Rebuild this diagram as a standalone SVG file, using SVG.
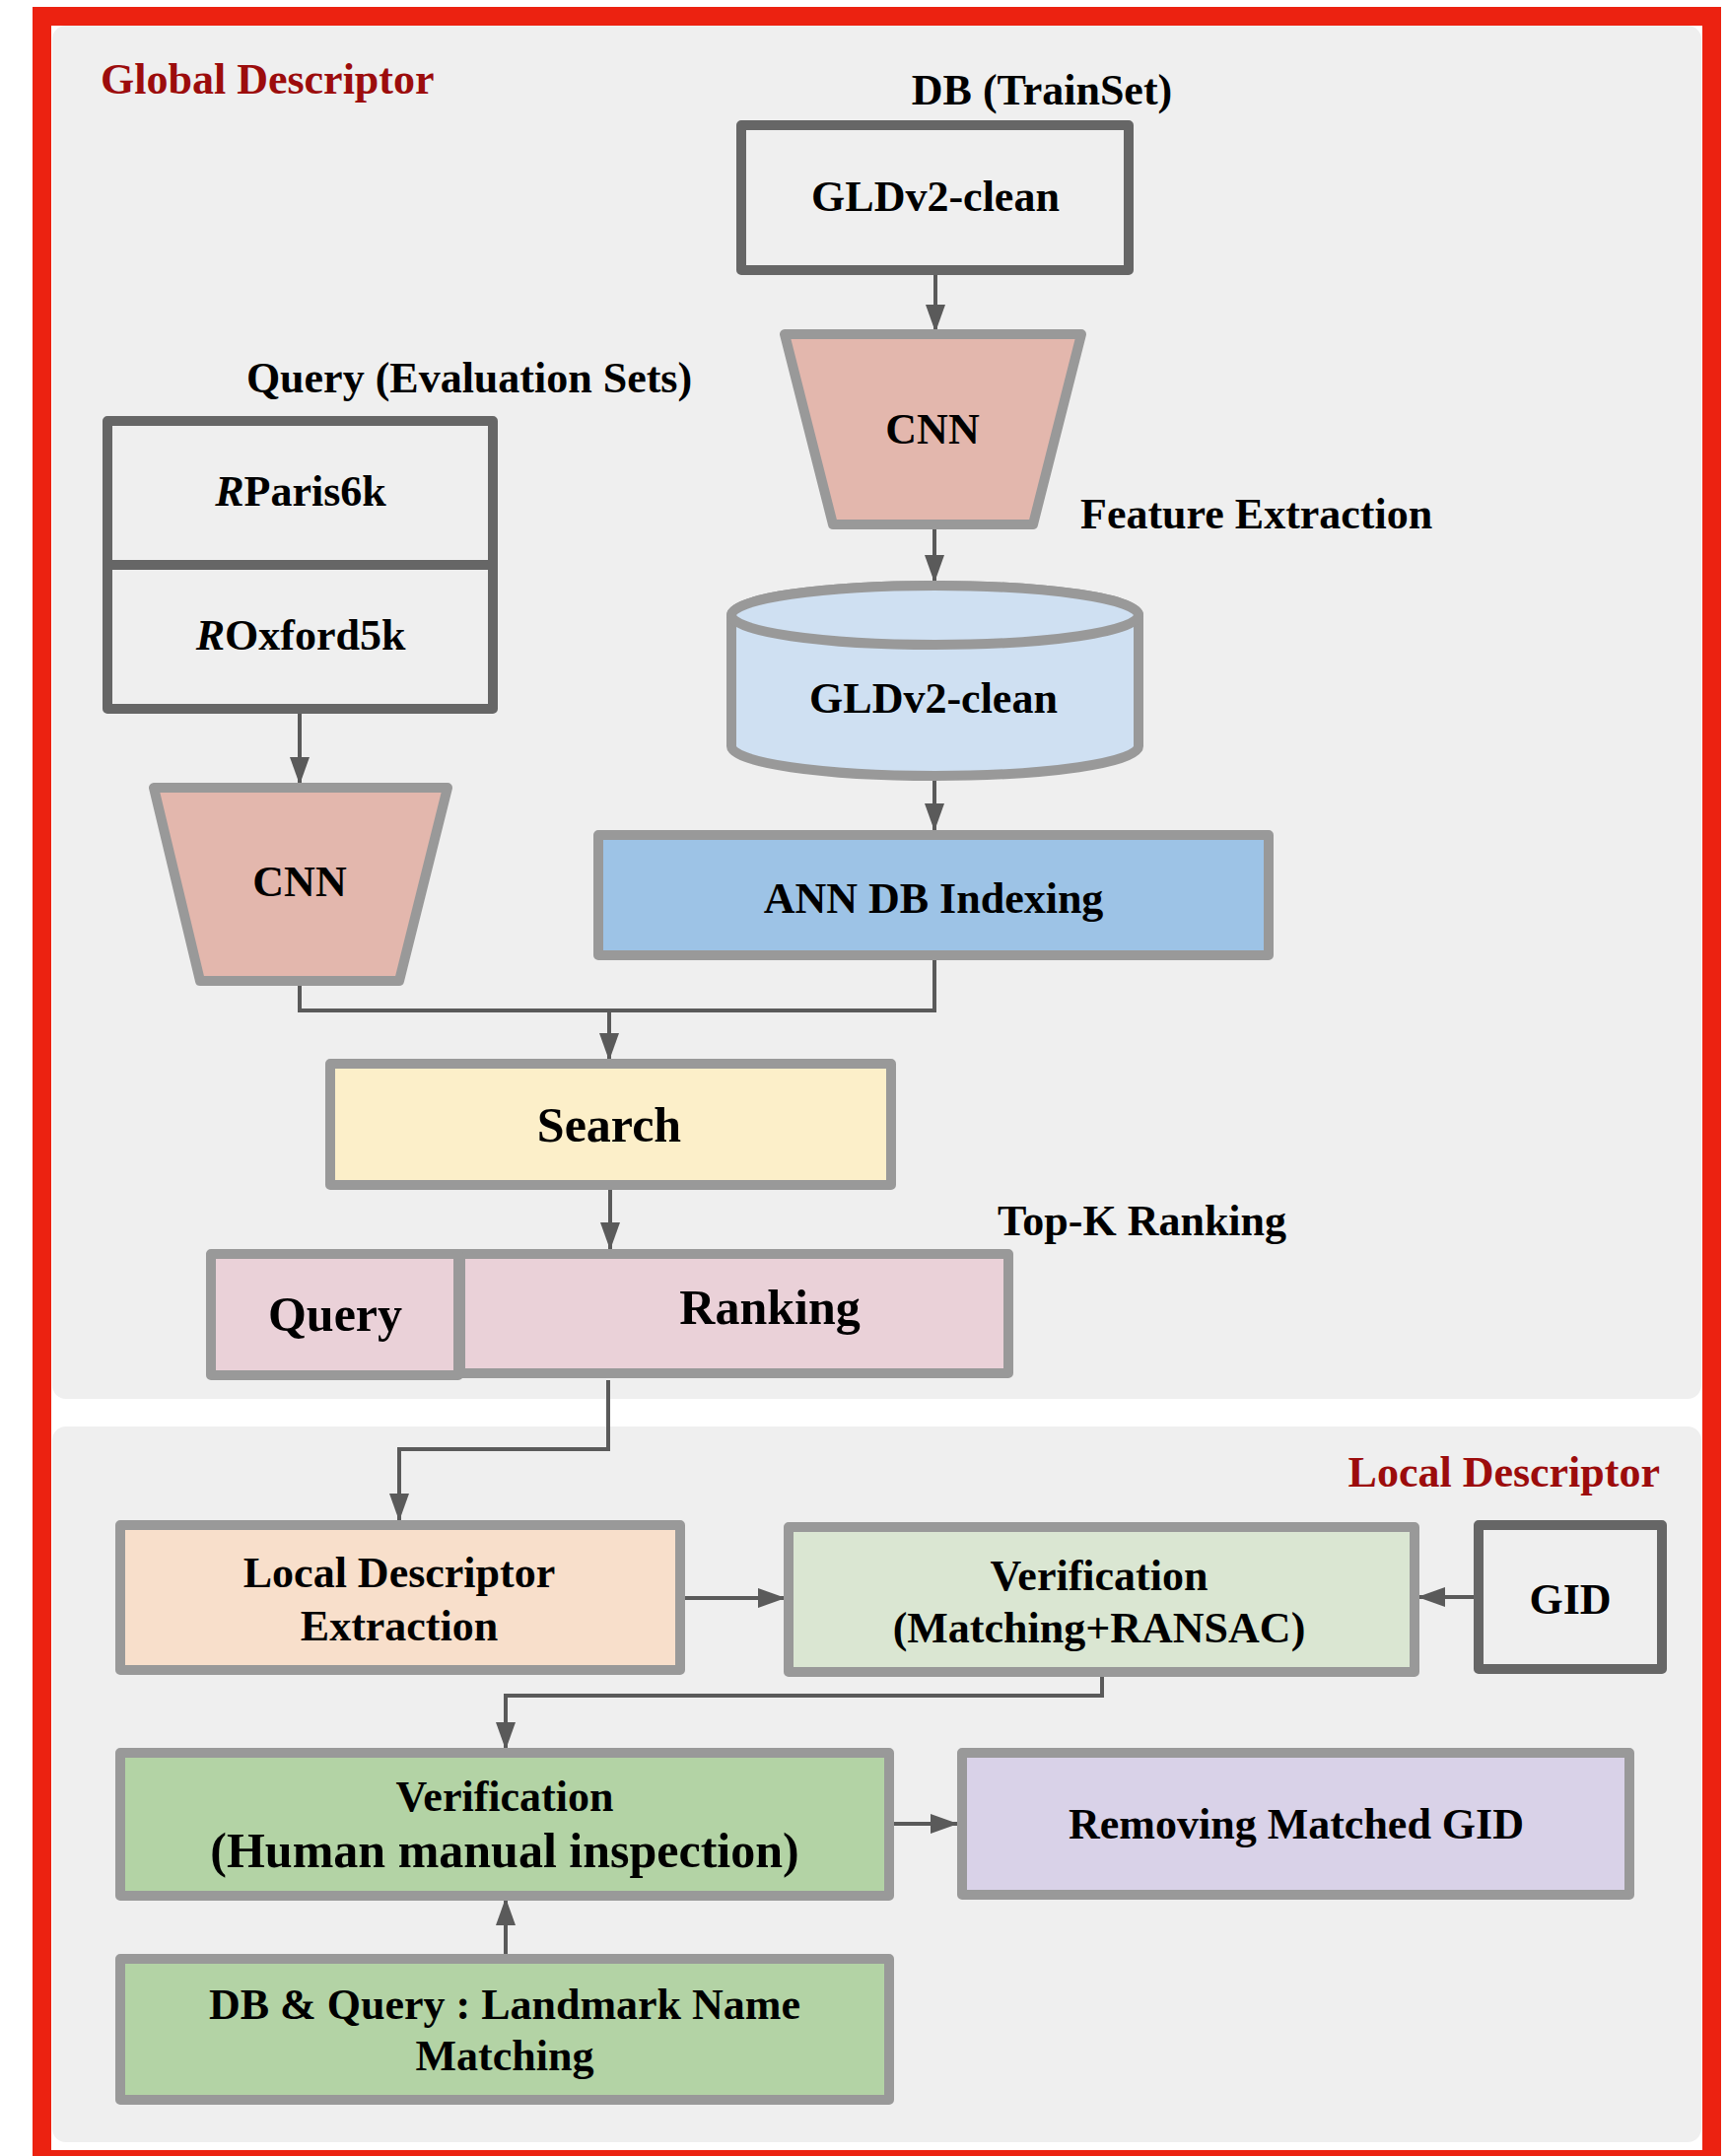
<svg xmlns="http://www.w3.org/2000/svg" width="1751" height="2187" viewBox="0 0 1751 2187">
  <style>
    text { font-family: "Liberation Serif", "Times New Roman", serif; font-weight: bold; font-size: 44px; fill: #000; text-anchor: middle; }
    .big { font-size: 50px; }
    .title { fill: #9c0c0c; }
    .start { text-anchor: start; }
    .end { text-anchor: end; }
    .panel { fill: #efefef; }
    .dark { stroke: #666; stroke-width: 10; fill: #efefef; stroke-linejoin: round; }
    .light { stroke: #999; stroke-width: 10; stroke-linejoin: round; }
    .conn { fill: none; stroke: #5a5a5a; stroke-width: 4; }
  </style>
  <defs>
    <marker id="arrow" markerUnits="userSpaceOnUse" markerWidth="28" markerHeight="20" refX="28" refY="10" orient="auto">
      <path d="M0,0 L28,10 L0,20 z" fill="#5a5a5a"/>
    </marker>
  </defs>

  <!-- frame and section panels -->
  <rect x="0" y="0" width="1751" height="2187" fill="#fff"/>
  <rect x="53" y="26" width="1673" height="1393" rx="14" class="panel"/>
  <rect x="53" y="1447" width="1673" height="726" rx="14" class="panel"/>
  <rect x="42.5" y="16.5" width="1694" height="2174" fill="none" stroke="#ec2211" stroke-width="19"/>

  <text class="title start" x="102" y="95">Global Descriptor</text>
  <text class="title end" x="1684" y="1508">Local Descriptor</text>

  <!-- connectors -->
  <g id="connectors">
    <line class="conn" x1="949" y1="279" x2="949" y2="337" marker-end="url(#arrow)"/>
    <line class="conn" x1="948" y1="537" x2="948" y2="591" marker-end="url(#arrow)"/>
    <line class="conn" x1="948" y1="792" x2="948" y2="843" marker-end="url(#arrow)"/>
    <line class="conn" x1="304" y1="724" x2="304" y2="796" marker-end="url(#arrow)"/>
    <path class="conn" d="M304,1000 V1025 H948 V974"/>
    <line class="conn" x1="618" y1="1025" x2="618" y2="1076" marker-end="url(#arrow)"/>
    <line class="conn" x1="619" y1="1207" x2="619" y2="1268" marker-end="url(#arrow)"/>
    <path class="conn" d="M617,1400 V1470 H405 V1543" marker-end="url(#arrow)"/>
    <line class="conn" x1="695" y1="1621" x2="797" y2="1621" marker-end="url(#arrow)"/>
    <line class="conn" x1="1495" y1="1620" x2="1438" y2="1620" marker-end="url(#arrow)"/>
    <path class="conn" d="M1118,1701 V1720 H513 V1775" marker-end="url(#arrow)"/>
    <line class="conn" x1="907" y1="1850" x2="972" y2="1850" marker-end="url(#arrow)"/>
    <line class="conn" x1="513" y1="1982" x2="513" y2="1925" marker-end="url(#arrow)"/>
  </g>

  <!-- global descriptor pipeline -->
  <g id="db-trainset">
    <text x="1057" y="106">DB (TrainSet)</text>
    <rect class="dark" x="752" y="127" width="393" height="147"/>
    <text x="949" y="214">GLDv2-clean</text>
  </g>

  <g id="cnn-db">
    <polygon class="light" fill="#e3b7ad" points="796,339 1097,339 1048,532 845,532"/>
    <text x="946" y="450">CNN</text>
  </g>
  <text class="start" x="1096" y="536">Feature Extraction</text>

  <g id="db-features">
    <path class="light" fill="#cfe0f2" d="M742,624 V757 A206.5,30 0 0 0 1155,757 V624 A206.5,30 0 0 0 742,624 z"/>
    <ellipse class="light" fill="#cfe0f2" cx="948.5" cy="624" rx="206.5" ry="30"/>
    <text x="947" y="723">GLDv2-clean</text>
  </g>

  <g id="ann-indexing">
    <rect class="light" fill="#9dc3e6" x="607" y="847" width="680" height="122"/>
    <text x="947" y="926">ANN DB Indexing</text>
  </g>

  <g id="query-sets">
    <text x="476" y="398">Query (Evaluation Sets)</text>
    <rect class="dark" x="109" y="427" width="391" height="292"/>
    <line x1="109" y1="573" x2="500" y2="573" stroke="#666" stroke-width="10"/>
    <text x="305" y="513"><tspan font-style="italic">R</tspan>Paris6k</text>
    <text x="305" y="659"><tspan font-style="italic">R</tspan>Oxford5k</text>
  </g>

  <g id="cnn-query">
    <polygon class="light" fill="#e3b7ad" points="156,799 454,799 405,995 203,995"/>
    <text x="304" y="909">CNN</text>
  </g>

  <g id="search">
    <rect class="light" fill="#fcefc9" x="335" y="1079" width="569" height="123"/>
    <text class="big" x="618" y="1158">Search</text>
  </g>

  <text class="start" x="1012" y="1253">Top-K Ranking</text>

  <g id="ranking">
    <rect class="light" fill="#ead1d8" x="467" y="1272" width="556" height="121"/>
    <rect class="light" fill="#ead1d8" x="214" y="1272" width="251" height="123"/>
    <text class="big" x="340" y="1350">Query</text>
    <text class="big" x="781" y="1343">Ranking</text>
  </g>

  <!-- local descriptor pipeline -->
  <g id="local-extraction">
    <rect class="light" fill="#f8dfcb" x="122" y="1547" width="568" height="147"/>
    <text x="405" y="1610">Local Descriptor</text>
    <text x="405" y="1664">Extraction</text>
  </g>

  <g id="verification-ransac">
    <rect class="light" fill="#dae6d2" x="800" y="1549" width="635" height="147"/>
    <text x="1115" y="1613">Verification</text>
    <text x="1115" y="1666">(Matching+RANSAC)</text>
  </g>

  <g id="gid">
    <rect class="dark" stroke="#555" x="1500" y="1547" width="186" height="146"/>
    <text x="1593" y="1637">GID</text>
  </g>

  <g id="verification-human">
    <rect class="light" fill="#b3d3a5" x="122" y="1778" width="780" height="145"/>
    <text x="512" y="1837">Verification</text>
    <text class="big" x="512" y="1894">(Human manual inspection)</text>
  </g>

  <g id="removing-gid">
    <rect class="light" fill="#d9d2e8" x="976" y="1778" width="677" height="144"/>
    <text x="1315" y="1865">Removing Matched GID</text>
  </g>

  <g id="name-matching">
    <rect class="light" fill="#b3d3a5" x="122" y="1987" width="780" height="143"/>
    <text x="512" y="2048">DB &amp; Query : Landmark Name</text>
    <text x="512" y="2100">Matching</text>
  </g>
</svg>
